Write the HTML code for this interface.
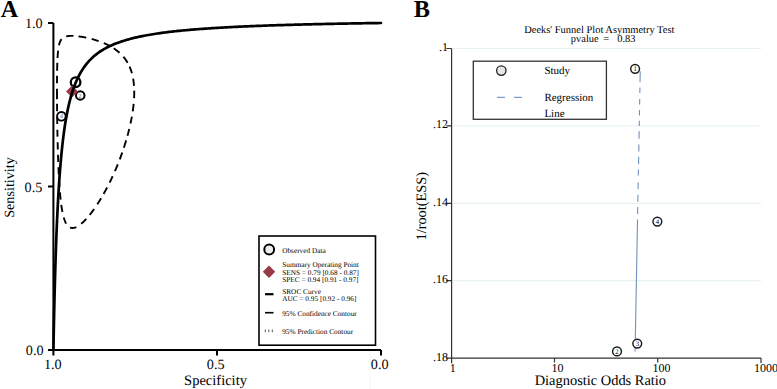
<!DOCTYPE html>
<html><head><meta charset="utf-8"><style>
html,body{margin:0;padding:0;background:#fff;}
svg{display:block;}
text{font-family:"Liberation Serif",serif;fill:#000;text-rendering:geometricPrecision;}
</style></head><body>
<svg width="777" height="389" viewBox="0 0 777 389">
<rect width="777" height="389" fill="#fff"/>
<!-- Panel A -->
<text x="0.8" y="16.7" font-size="24.1" font-weight="bold">A</text>
<line x1="370" y1="352" x2="370" y2="389" stroke="#f3f3f3" stroke-width="0.8"/>
<g stroke="#000" stroke-width="2" fill="none">
<path d="M53.4,23 V350 H381"/>
<path d="M48,23 H53.4 M48,186.5 H53.4 M48,350 H53.4 M53.4,350 V355.6 M217,350 V355.6 M381,350 V355.6"/>
</g>
<g font-size="14.2" text-anchor="middle">
<text x="33.8" y="27.5">1.0</text>
<text x="33.45" y="191.5">0.5</text>
<text x="34.65" y="355.2">0.0</text>
<text x="52.85" y="368.7">1.0</text>
<text x="215.65" y="368.8">0.5</text>
<text x="379.65" y="369">0.0</text>
</g>
<text x="184.1" y="384.7" font-size="14.5">Specificity</text>
<text transform="translate(13.5,187.5) rotate(-90)" font-size="14.17" text-anchor="middle">Sensitivity</text>
<path d="M61.55,39.20 L61.10,39.79 L60.71,40.42 L60.36,41.07 L60.05,41.74 L59.78,42.43 L59.54,43.12 L59.33,43.83 L59.14,44.54 L58.97,45.26M58.11,50.65 L58.03,51.47 L57.95,52.29 L57.87,53.12 L57.81,53.94 L57.74,54.77 L57.69,55.60 L57.63,56.42 L57.58,57.25 L57.54,58.07M57.33,62.77 L57.30,63.67 L57.27,64.56 L57.25,65.46 L57.22,66.36 L57.20,67.26 L57.18,68.15 L57.16,69.05 L57.14,69.95 L57.12,70.85M57.05,75.64 L57.04,76.47 L57.03,77.31 L57.03,78.15 L57.02,78.98 L57.01,79.82 L57.01,80.65 L57.00,81.49 L57.00,82.33 L56.99,83.16M56.98,88.65 L56.98,89.84 L56.98,91.02 L56.98,92.21 L56.99,93.39 L56.99,94.58 L56.99,95.76 L57.00,96.94 L57.00,98.13 L57.01,99.31M57.04,103.77 L57.04,104.59 L57.05,105.41 L57.06,106.23 L57.06,107.06 L57.07,107.88 L57.08,108.70 L57.09,109.52 L57.09,110.35 L57.10,111.17M57.17,116.75 L57.18,117.55 L57.19,118.35 L57.20,119.15 L57.21,119.95 L57.22,120.75 L57.23,121.55 L57.25,122.35 L57.26,123.15 L57.27,123.95M57.37,129.86 L57.38,130.61 L57.40,131.36 L57.41,132.11 L57.43,132.86 L57.44,133.62 L57.46,134.37 L57.47,135.12 L57.49,135.87 L57.50,136.62M57.63,142.20 L57.65,143.00 L57.67,143.80 L57.69,144.60 L57.71,145.40 L57.73,146.20 L57.75,147.00 L57.77,147.80 L57.80,148.60 L57.82,149.40M57.98,154.75 L58.00,155.55 L58.03,156.35 L58.06,157.15 L58.08,157.95 L58.11,158.75 L58.14,159.55 L58.17,160.35 L58.20,161.15 L58.23,161.95M58.44,167.30 L58.47,168.10 L58.51,168.90 L58.54,169.70 L58.58,170.50 L58.62,171.30 L58.65,172.10 L58.69,172.90 L58.73,173.70 L58.77,174.50M59.06,179.85 L59.11,180.65 L59.15,181.44 L59.20,182.24 L59.25,183.04 L59.31,183.84 L59.36,184.64 L59.41,185.44 L59.47,186.23 L59.52,187.03M59.94,192.37 L60.01,193.17 L60.08,193.97 L60.15,194.77 L60.22,195.56 L60.30,196.36 L60.38,197.15 L60.46,197.95 L60.54,198.75 L60.63,199.54M61.28,204.86 L61.39,205.65 L61.50,206.44 L61.62,207.24 L61.75,208.03 L61.87,208.82 L62.01,209.60 L62.15,210.39 L62.29,211.18 L62.44,211.96M63.74,217.42 L63.95,218.14 L64.17,218.85 L64.41,219.55 L64.66,220.25 L64.93,220.95 L65.22,221.63 L65.52,222.31 L65.85,222.97 L66.21,223.63M70.07,227.51 L70.74,227.76 L71.44,227.92 L72.16,227.99 L72.88,227.99 L73.59,227.90 L74.30,227.76 L74.99,227.55 L75.66,227.31 L76.32,227.02M81.19,223.80 L81.79,223.29 L82.38,222.77 L82.96,222.24 L83.53,221.70 L84.09,221.15 L84.65,220.59 L85.19,220.03 L85.73,219.46 L86.27,218.88M89.69,214.89 L90.19,214.25 L90.70,213.61 L91.19,212.97 L91.69,212.33 L92.18,211.68 L92.66,211.02 L93.14,210.37 L93.62,209.71 L94.09,209.05M97.33,204.28 L97.76,203.62 L98.19,202.95 L98.62,202.29 L99.04,201.62 L99.46,200.95 L99.87,200.28 L100.28,199.60 L100.69,198.93 L101.10,198.25M103.61,193.93 L104.01,193.23 L104.41,192.52 L104.80,191.81 L105.19,191.10 L105.57,190.39 L105.96,189.68 L106.34,188.97 L106.72,188.25 L107.09,187.54M109.59,182.63 L109.94,181.92 L110.29,181.22 L110.63,180.51 L110.97,179.80 L111.31,179.09 L111.65,178.38 L111.98,177.66 L112.31,176.95 L112.64,176.24M114.94,171.12 L115.26,170.36 L115.59,169.61 L115.91,168.85 L116.23,168.10 L116.55,167.34 L116.86,166.58 L117.17,165.82 L117.48,165.06 L117.79,164.30M119.75,159.30 L120.03,158.55 L120.31,157.81 L120.59,157.06 L120.87,156.31 L121.14,155.56 L121.41,154.81 L121.68,154.06 L121.95,153.31 L122.21,152.56M123.85,147.72 L124.12,146.91 L124.38,146.10 L124.65,145.28 L124.90,144.46 L125.16,143.65 L125.41,142.83 L125.66,142.01 L125.91,141.19 L126.16,140.37M127.46,135.80 L127.67,135.05 L127.87,134.30 L128.08,133.55 L128.27,132.79 L128.47,132.04 L128.66,131.28 L128.86,130.53 L129.04,129.77 L129.23,129.02M130.50,123.53 L130.66,122.76 L130.82,121.99 L130.98,121.23 L131.14,120.46 L131.29,119.69 L131.44,118.92 L131.58,118.16 L131.73,117.39 L131.87,116.62M132.72,111.42 L132.84,110.57 L132.96,109.73 L133.07,108.89 L133.18,108.05 L133.29,107.20 L133.39,106.36 L133.48,105.51 L133.57,104.66 L133.66,103.82M134.09,98.09 L134.13,97.26 L134.16,96.43 L134.19,95.61 L134.21,94.78 L134.23,93.95 L134.24,93.11 L134.24,92.28 L134.23,91.45 L134.22,90.62M134.00,85.84 L133.94,85.03 L133.87,84.22 L133.79,83.41 L133.70,82.60 L133.60,81.79 L133.49,80.99 L133.37,80.18 L133.25,79.38 L133.11,78.58M131.92,73.30 L131.70,72.55 L131.48,71.80 L131.24,71.06 L131.00,70.32 L130.74,69.59 L130.47,68.86 L130.18,68.13 L129.89,67.41 L129.58,66.70M127.60,62.77 L127.19,62.06 L126.76,61.36 L126.32,60.68 L125.87,60.00 L125.40,59.32 L124.91,58.66 L124.42,58.01 L123.91,57.37 L123.39,56.74M119.54,52.76 L118.93,52.22 L118.31,51.69 L117.68,51.17 L117.04,50.67 L116.39,50.17 L115.74,49.69 L115.07,49.21 L114.40,48.75 L113.72,48.30M110.37,46.27 L109.66,45.87 L108.94,45.49 L108.22,45.11 L107.49,44.75 L106.76,44.39 L106.02,44.05 L105.28,43.71 L104.53,43.38 L103.79,43.06M98.62,41.08 L97.86,40.81 L97.09,40.56 L96.32,40.31 L95.55,40.07 L94.77,39.83 L94.00,39.60 L93.22,39.38 L92.44,39.16 L91.66,38.95M86.26,37.67 L85.41,37.49 L84.55,37.32 L83.70,37.16 L82.84,37.01 L81.98,36.86 L81.12,36.72 L80.26,36.59 L79.40,36.47 L78.53,36.35M73.45,35.90 L72.65,35.87 L71.84,35.86 L71.03,35.86 L70.23,35.88 L69.42,35.92 L68.62,35.99 L67.82,36.09 L67.02,36.23 L66.23,36.40" fill="none" stroke="#000" stroke-width="1.9"/>
<g stroke="#000" fill="#fff">
<circle cx="61.4" cy="116.3" r="4.3" stroke-width="1.9"/>
<circle cx="80.25" cy="95.4" r="4.25" stroke-width="2"/>
<circle cx="75.6" cy="82.2" r="4.8" stroke-width="2.3"/>
</g>
<g font-size="6" text-anchor="middle" style="fill:#666">
<text x="61.4" y="118.4" style="fill:#666">4</text>
<text x="80.0" y="97.5" style="fill:#666">2</text>
</g>
<path d="M72,85.6 L78,91.6 L72,97.6 L66,91.6 Z" fill="#963a44"/>
<path d="M53.40,350.00 L53.40,350.00 L53.40,350.00 L53.40,350.00 L53.40,350.00 L53.40,350.00 L53.40,350.00 L53.40,350.00 L53.40,350.00 L53.40,350.00 L53.40,350.00 L53.40,350.00 L53.40,350.00 L53.40,350.00 L53.40,350.00 L53.40,350.00 L53.40,350.00 L53.40,350.00 L53.40,350.00 L53.40,350.00 L53.40,350.00 L53.40,350.00 L53.40,349.99 L53.40,349.99 L53.40,349.99 L53.40,349.99 L53.40,349.99 L53.40,349.99 L53.40,349.99 L53.40,349.99 L53.40,349.99 L53.40,349.99 L53.40,349.99 L53.40,349.99 L53.40,349.99 L53.40,349.99 L53.40,349.99 L53.40,349.99 L53.40,349.99 L53.40,349.98 L53.40,349.98 L53.40,349.98 L53.40,349.98 L53.40,349.98 L53.40,349.98 L53.40,349.98 L53.40,349.97 L53.40,349.97 L53.40,349.97 L53.40,349.97 L53.40,349.97 L53.40,349.97 L53.40,349.96 L53.40,349.96 L53.40,349.96 L53.40,349.95 L53.40,349.95 L53.40,349.95 L53.40,349.95 L53.40,349.94 L53.40,349.94 L53.40,349.93 L53.40,349.93 L53.40,349.92 L53.40,349.92 L53.40,349.91 L53.40,349.91 L53.40,349.90 L53.40,349.90 L53.40,349.89 L53.40,349.88 L53.40,349.87 L53.40,349.86 L53.40,349.85 L53.40,349.85 L53.40,349.83 L53.40,349.82 L53.40,349.81 L53.40,349.80 L53.40,349.79 L53.40,349.77 L53.41,349.76 L53.41,349.74 L53.41,349.72 L53.41,349.70 L53.41,349.68 L53.41,349.66 L53.41,349.64 L53.41,349.62 L53.41,349.59 L53.41,349.56 L53.41,349.53 L53.41,349.50 L53.41,349.47 L53.41,349.43 L53.41,349.40 L53.41,349.35 L53.41,349.31 L53.41,349.27 L53.42,349.22 L53.42,349.16 L53.42,349.11 L53.42,349.05 L53.42,348.99 L53.42,348.92 L53.42,348.84 L53.42,348.77 L53.43,348.69 L53.43,348.60 L53.43,348.50 L53.43,348.40 L53.43,348.30 L53.44,348.18 L53.44,348.06 L53.44,347.93 L53.44,347.80 L53.45,347.65 L53.45,347.49 L53.45,347.33 L53.46,347.15 L53.46,346.96 L53.46,346.76 L53.47,346.54 L53.47,346.31 L53.48,346.07 L53.48,345.81 L53.49,345.53 L53.49,345.23 L53.50,344.92 L53.51,344.58 L53.51,344.23 L53.52,343.85 L53.53,343.44 L53.54,343.01 L53.54,342.55 L53.55,342.07 L53.56,341.55 L53.57,341.00 L53.59,340.41 L53.60,339.79 L53.61,339.12 L53.62,338.42 L53.64,337.67 L53.65,336.88 L53.67,336.03 L53.69,335.14 L53.71,334.19 L53.73,333.18 L53.75,332.12 L53.77,330.98 L53.80,329.79 L53.82,328.52 L53.85,327.18 L53.88,325.76 L53.91,324.26 L53.94,322.67 L53.98,321.00 L54.02,319.23 L54.06,317.37 L54.10,315.41 L54.14,313.35 L54.19,311.18 L54.24,308.89 L54.30,306.50 L54.36,303.98 L54.42,301.35 L54.49,298.59 L54.56,295.70 L54.63,292.69 L54.71,289.54 L54.80,286.26 L54.89,282.85 L54.99,279.30 L55.09,275.62 L55.20,271.80 L55.32,267.85 L55.44,263.77 L55.57,259.56 L55.72,255.22 L55.87,250.76 L56.03,246.18 L56.20,241.49 L56.38,236.69 L56.57,231.79 L56.78,226.80 L57.00,221.72 L57.24,216.57 L57.49,211.35 L57.75,206.07 L58.03,200.75 L58.34,195.39 L58.66,190.01 L59.00,184.61 L59.37,179.22 L59.75,173.83 L60.17,168.46 L60.61,163.13 L61.08,157.83 L61.58,152.59 L62.11,147.42 L62.68,142.32 L63.28,137.30 L63.92,132.37 L64.61,127.54 L65.34,122.81 L66.12,118.19 L66.95,113.70 L67.83,109.32 L68.77,105.07 L69.77,100.95 L70.83,96.96 L71.97,93.10 L73.18,89.38 L74.47,85.79 L75.84,82.34 L77.30,79.02 L78.85,75.84 L80.51,72.78 L82.28,69.86 L84.16,67.07 L86.16,64.40 L87.64,62.60 L89.12,60.93 L90.60,59.38 L92.09,57.94 L93.57,56.59 L95.05,55.33 L96.53,54.14 L98.01,53.03 L99.49,51.98 L100.98,51.00 L102.46,50.06 L103.94,49.18 L105.42,48.34 L106.90,47.55 L108.38,46.80 L109.87,46.08 L111.35,45.40 L112.83,44.74 L114.31,44.12 L115.79,43.53 L117.27,42.96 L118.76,42.42 L120.24,41.90 L121.72,41.40 L123.20,40.92 L124.68,40.46 L126.16,40.01 L127.65,39.59 L129.13,39.18 L130.61,38.78 L132.09,38.40 L133.57,38.03 L135.05,37.68 L136.53,37.33 L138.02,37.00 L139.50,36.68 L140.98,36.37 L142.46,36.07 L143.94,35.78 L145.42,35.50 L146.91,35.23 L148.39,34.96 L149.87,34.71 L151.35,34.46 L152.83,34.22 L154.31,33.98 L155.80,33.75 L157.28,33.53 L158.76,33.32 L160.24,33.10 L161.72,32.90 L163.20,32.70 L164.69,32.51 L166.17,32.32 L167.65,32.13 L169.13,31.95 L170.61,31.78 L172.09,31.61 L173.57,31.44 L175.06,31.28 L176.54,31.12 L178.02,30.96 L179.50,30.81 L180.98,30.66 L182.46,30.52 L183.95,30.38 L185.43,30.24 L186.91,30.10 L188.39,29.97 L189.87,29.84 L191.35,29.71 L192.84,29.59 L194.32,29.47 L195.80,29.35 L197.28,29.23 L198.76,29.12 L200.24,29.01 L201.73,28.90 L203.21,28.79 L204.69,28.68 L206.17,28.58 L207.65,28.48 L209.13,28.38 L210.62,28.28 L212.10,28.19 L213.58,28.09 L215.06,28.00 L216.54,27.91 L218.02,27.82 L219.50,27.73 L220.99,27.64 L222.47,27.56 L223.95,27.48 L225.43,27.40 L226.91,27.32 L228.39,27.24 L229.88,27.16 L231.36,27.08 L232.84,27.01 L234.32,26.93 L235.80,26.86 L237.28,26.79 L238.77,26.72 L240.25,26.65 L241.73,26.58 L243.21,26.52 L244.69,26.45 L246.17,26.38 L247.66,26.32 L249.14,26.26 L250.62,26.20 L252.10,26.14 L253.58,26.08 L255.06,26.02 L256.54,25.96 L258.03,25.90 L259.51,25.84 L260.99,25.79 L262.47,25.73 L263.95,25.68 L265.43,25.62 L266.92,25.57 L268.40,25.52 L269.88,25.47 L271.36,25.42 L272.84,25.37 L274.32,25.32 L275.81,25.27 L277.29,25.22 L278.77,25.18 L280.25,25.13 L281.73,25.08 L283.21,25.04 L284.70,24.99 L286.18,24.95 L287.66,24.91 L289.14,24.86 L290.62,24.82 L292.10,24.78 L293.59,24.74 L295.07,24.70 L296.55,24.66 L298.03,24.62 L299.51,24.58 L300.99,24.54 L302.47,24.50 L303.96,24.46 L305.44,24.42 L306.92,24.39 L308.40,24.35 L309.88,24.31 L311.36,24.28 L312.85,24.24 L314.33,24.21 L315.81,24.17 L317.29,24.14 L318.77,24.11 L320.25,24.07 L321.74,24.04 L323.22,24.01 L324.70,23.98 L326.18,23.95 L327.66,23.91 L329.14,23.88 L330.63,23.85 L332.11,23.82 L333.59,23.79 L335.07,23.76 L336.55,23.73 L338.03,23.70 L339.51,23.68 L341.00,23.65 L342.48,23.62 L343.96,23.59 L345.44,23.57 L346.92,23.54 L348.40,23.51 L349.89,23.48 L351.37,23.46 L352.85,23.43 L354.33,23.41 L355.81,23.38 L357.29,23.36 L358.78,23.33 L360.26,23.31 L361.74,23.28 L363.22,23.26 L364.70,23.24 L366.18,23.21 L367.67,23.19 L369.15,23.17 L370.63,23.15 L372.11,23.12 L373.59,23.10 L375.07,23.08 L376.56,23.06 L378.04,23.04 L379.52,23.02 L381.00,23.00" fill="none" stroke="#000" stroke-width="2.7" stroke-linecap="round"/>
<!-- legend A -->
<rect x="259" y="236" width="116.5" height="109.2" fill="#fff" stroke="#000" stroke-width="1.6"/>
<circle cx="269.2" cy="249.5" r="4.9" fill="#eee" stroke="#000" stroke-width="2"/>
<path d="M269,265.5 L275.2,271.7 L269,277.9 L262.8,271.7 Z" fill="#963a44"/>
<line x1="265" y1="294.2" x2="273.5" y2="294.2" stroke="#000" stroke-width="2.2"/>
<line x1="265" y1="312.7" x2="273.5" y2="312.7" stroke="#000" stroke-width="1.6"/>
<path d="M265.3,329.5 V332.2 M268.8,329.5 V332.2 M272.3,329.5 V332.2" stroke="#555" stroke-width="1"/>
<g font-size="7.3">
<text x="282.2" y="252.8">Observed Data</text>
<text x="282.2" y="267.4">Summary Operating Point</text>
<text x="282.2" y="274.6">SENS = 0.79 [0.68 - 0.87]</text>
<text x="282.2" y="281.7">SPEC = 0.94 [0.91 - 0.97]</text>
<text x="282.2" y="293.7">SROC Curve</text>
<text x="282.2" y="300.7">AUC = 0.95 [0.92 - 0.96]</text>
<text x="282.2" y="315.8">95% Confidence Contour</text>
<text x="282.2" y="334.4">95% Prediction Contour</text>
</g>
<!-- Panel B -->
<text x="413.8" y="17" font-size="24.3" font-weight="bold">B</text>
<g stroke="#e4eff0" stroke-width="1"><line x1="452.20000000000005" y1="48.50" x2="761" y2="48.50"/><line x1="452.20000000000005" y1="125.90" x2="761" y2="125.90"/><line x1="452.20000000000005" y1="203.30" x2="761" y2="203.30"/><line x1="452.20000000000005" y1="280.70" x2="761" y2="280.70"/></g>
<g stroke="#333" stroke-width="1.2" fill="none">
<path d="M451.6,48.5 V358.1 H761"/>
<path d="M446.4,48.50 H451.6 M446.4,125.90 H451.6 M446.4,203.30 H451.6 M446.4,280.70 H451.6 M446.4,358.10 H451.6"/>
<path d="M451.6,358.1 V363.2 M554.5,358.1 V362.5 M657.7,358.1 V362.5 M761,358.1 V363"/>
</g>
<g font-size="12" text-anchor="end" style="fill:#222"><text x="447.9" y="50.90">.1</text><text x="447.9" y="128.30">.12</text><text x="447.9" y="205.70">.14</text><text x="447.9" y="283.10">.16</text><text x="447.9" y="360.50">.18</text></g>
<g font-size="12" style="fill:#222">
<text x="449.8" y="371.6">1</text>
<text x="551.4" y="371.6">10</text>
<text x="652.6" y="371.6">100</text>
<text x="753.9" y="371.6">1000</text>
</g>
<text x="534.7" y="384.7" font-size="14.43">Diagnostic Odds Ratio</text>
<text transform="translate(425.7,206.2) rotate(-90)" font-size="14.38" text-anchor="middle">1/root(ESS)</text>
<g font-size="10.46" style="fill:#111">
<text x="524.2" y="33.1">Deeks' Funnel Plot Asymmetry Test</text>
<text x="570.8" y="42.4">pvalue</text>
<text x="603.3" y="42.4">=</text>
<text x="617.2" y="42.4">0.83</text>
</g>
<!-- legend B -->
<rect x="473.3" y="61.2" width="133.1" height="58.1" fill="#fff" stroke="#333" stroke-width="1.3"/>
<circle cx="501.3" cy="70.6" r="4.7" fill="#e6e6e6" stroke="#222" stroke-width="1.3"/>
<line x1="497" y1="97.4" x2="522.6" y2="97.4" stroke="#7f9fc4" stroke-width="1.2" stroke-dasharray="8 8.9"/>
<g font-size="11" style="fill:#111">
<text x="544.4" y="74.4">Study</text>
<text x="544.4" y="100.5">Regression</text>
<text x="544.4" y="116.5">Line</text>
</g>
<!-- regression line -->
<g stroke="#7191bb" stroke-width="1.1"><line x1="640.23" y1="71.20" x2="640.03" y2="82.10"/><line x1="639.93" y1="87.40" x2="639.83" y2="92.90"/><line x1="639.72" y1="99.10" x2="639.62" y2="104.60"/><line x1="639.52" y1="109.90" x2="639.42" y2="115.40"/><line x1="639.32" y1="120.70" x2="639.23" y2="126.10"/><line x1="639.13" y1="131.20" x2="639.00" y2="138.70"/><line x1="638.89" y1="144.60" x2="638.76" y2="151.50"/><line x1="638.66" y1="156.80" x2="638.53" y2="164.30"/><line x1="638.43" y1="169.60" x2="638.32" y2="175.40"/><line x1="638.20" y1="182.40" x2="638.07" y2="189.30"/><line x1="637.97" y1="194.80" x2="637.84" y2="201.70"/><line x1="637.74" y1="207.10" x2="637.62" y2="214.10"/><line x1="637.52" y1="219.5" x2="635.10" y2="351.5"/></g>
<g stroke="#1a1a1a" stroke-width="1.45" fill="#fff">
<circle cx="635.1" cy="68.85" r="4.4"/>
<circle cx="617" cy="351.4" r="4.4"/>
<circle cx="637.25" cy="343.6" r="4.4"/>
<circle cx="657.35" cy="221.55" r="4.4"/>
</g>
<g font-size="6.8" text-anchor="middle" style="fill:#3a3a3a">
<text x="635.2" y="71.2">1</text>
<text x="616.9" y="353.7">2</text>
<text x="637.5" y="345.9">3</text>
<text x="657.4" y="223.8">4</text>
</g>
</svg>
</body></html>
